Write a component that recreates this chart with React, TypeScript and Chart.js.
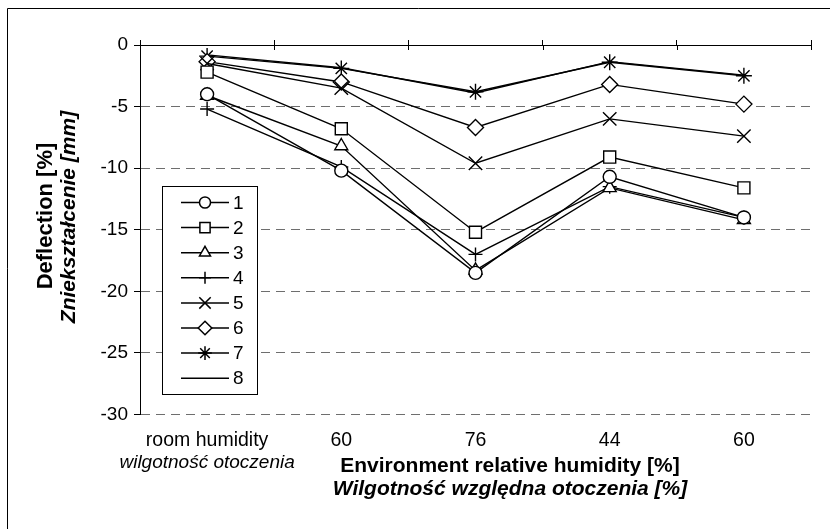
import React, { useEffect, useRef } from 'react';
import { Chart, registerables } from 'chart.js';

Chart.register(...registerables);

// ---- data ----
const categories = ['room humidity', '60', '76', '44', '60'];
const categoriesSecondLine = ['wilgotność otoczenia', '', '', '', ''];
const seriesNames = ['1', '2', '3', '4', '5', '6', '7', '8'];
const series1 = [-4.0, -10.2, -18.5, -10.7, -14.0];
const series2 = [-2.2, -6.8, -15.2, -9.1, -11.6];
const series3 = [-4.1, -8.2, -18.3, -11.6, -14.2];
const series4 = [-5.2, -9.9, -17.0, -11.5, -14.0];
const series5 = [-1.5, -3.5, -9.6, -6.0, -7.4];
const series6 = [-1.35, -3.0, -6.7, -3.2, -4.8];
const series7 = [-0.9, -1.9, -3.8, -1.4, -2.5];
const series8 = [-0.8, -1.85, -3.9, -1.35, -2.45];
const yMin = -30;
const yMax = 0;
const yStep = 5;
const xTitle1 = 'Environment relative humidity [%]';
const xTitle2 = 'Wilgotność względna otoczenia [%]';
const yTitle1 = 'Deflection [%]';
const yTitle2 = 'Zniekształcenie [mm]';

// ---- styles ----
const FONT = '"Liberation Sans", Arial, sans-serif';
const seriesValues = [series1, series2, series3, series4, series5, series6, series7, series8];
const markerStyles: any[] = ['circle', 'rect', 'triangle', 'cross', 'crossRot', 'rectRot', 'star', false];
const markerRadii = [6.5, 8.5, 7.5, 7, 9.5, 8, 8, 0];

function drawMarker(ctx: CanvasRenderingContext2D, style: any, x: number, y: number, r: number) {
  if (!style) return;
  ctx.beginPath();
  const d = r * Math.SQRT1_2;
  let fill = false;
  switch (style) {
    case 'circle':
      ctx.arc(x, y, r, 0, Math.PI * 2);
      fill = true;
      break;
    case 'rect':
      ctx.rect(x - d, y - d, 2 * d, 2 * d);
      fill = true;
      break;
    case 'triangle': {
      const s = Math.sin((2 * Math.PI) / 3) * r;
      ctx.moveTo(x, y - r);
      ctx.lineTo(x + s, y + r / 2);
      ctx.lineTo(x - s, y + r / 2);
      ctx.closePath();
      fill = true;
      break;
    }
    case 'rectRot':
      ctx.moveTo(x - r, y);
      ctx.lineTo(x, y - r);
      ctx.lineTo(x + r, y);
      ctx.lineTo(x, y + r);
      ctx.closePath();
      fill = true;
      break;
    case 'cross':
      ctx.moveTo(x, y - r);
      ctx.lineTo(x, y + r);
      ctx.moveTo(x - r, y);
      ctx.lineTo(x + r, y);
      break;
    case 'crossRot':
      ctx.moveTo(x - d, y - d);
      ctx.lineTo(x + d, y + d);
      ctx.moveTo(x + d, y - d);
      ctx.lineTo(x - d, y + d);
      break;
    case 'star':
      ctx.moveTo(x, y - r);
      ctx.lineTo(x, y + r);
      ctx.moveTo(x - r, y);
      ctx.lineTo(x + r, y);
      ctx.moveTo(x - d, y - d);
      ctx.lineTo(x + d, y + d);
      ctx.moveTo(x + d, y - d);
      ctx.lineTo(x - d, y + d);
      break;
  }
  if (fill) {
    ctx.fillStyle = '#ffffff';
    ctx.fill();
  }
  ctx.stroke();
}

const decorPlugin = {
  id: 'decor',
  afterDraw(chart: any) {
    const ctx: CanvasRenderingContext2D = chart.ctx;
    const area = chart.chartArea;
    const xScale = chart.scales.x;
    ctx.save();
    // outer frame (left and top visible)
    ctx.strokeStyle = '#000';
    ctx.lineWidth = 1;
    ctx.beginPath();
    ctx.moveTo(7.5, 529);
    ctx.lineTo(7.5, 8.5);
    ctx.lineTo(830, 8.5);
    ctx.stroke();

    // inner half of category tick marks (crossing the axis line)
    const n = categories.length;
    ctx.beginPath();
    for (let i = 0; i <= n; i++) {
      const x = Math.round(area.left + (i * (area.right - area.left)) / n) + 0.5;
      ctx.moveTo(x, area.top);
      ctx.lineTo(x, area.top + 5);
    }
    ctx.stroke();

    // category labels
    ctx.fillStyle = '#000';
    ctx.textAlign = 'center';
    ctx.textBaseline = 'middle';
    categories.forEach((c, i) => {
      const x = xScale.getPixelForValue(i);
      ctx.font = `19.5px ${FONT}`;
      ctx.fillText(c, x, 441);
      if (categoriesSecondLine[i]) {
        ctx.font = `italic 19px ${FONT}`;
        ctx.fillText(categoriesSecondLine[i], x, 463);
      }
    });

    // x axis titles
    ctx.font = `bold 21px ${FONT}`;
    ctx.fillText(xTitle1, 510, 466);
    ctx.font = `italic bold 21px ${FONT}`;
    ctx.fillText(xTitle2, 510, 489);

    // y axis titles
    ctx.save();
    ctx.translate(46, 216);
    ctx.rotate(-Math.PI / 2);
    ctx.font = `bold 22px ${FONT}`;
    ctx.fillText(yTitle1, 0, 0);
    ctx.restore();
    ctx.save();
    ctx.translate(69, 217);
    ctx.rotate(-Math.PI / 2);
    ctx.font = `italic bold 21px ${FONT}`;
    ctx.fillText(yTitle2, 0, 0);
    ctx.restore();

    // legend
    const bx = 162.5, by = 186.5, bw = 95, bh = 208;
    ctx.fillStyle = '#fff';
    ctx.fillRect(bx, by, bw, bh);
    ctx.strokeStyle = '#000';
    ctx.lineWidth = 1;
    ctx.strokeRect(bx, by, bw, bh);
    seriesNames.forEach((name, i) => {
      const y = 202.5 + i * 25.1;
      ctx.strokeStyle = '#000';
      ctx.lineWidth = 1.5;
      ctx.beginPath();
      ctx.moveTo(181, y);
      ctx.lineTo(229, y);
      ctx.stroke();
      drawMarker(ctx, markerStyles[i], 205, y, markerRadii[i] * 0.85);
      ctx.fillStyle = '#000';
      ctx.font = `19px ${FONT}`;
      ctx.textAlign = 'left';
      ctx.textBaseline = 'middle';
      ctx.fillText(name, 233, y + 1);
    });
    ctx.restore();
  },
};

export default function App() {
  const canvasRef = useRef<HTMLCanvasElement>(null);

  useEffect(() => {
    document.body.style.margin = '0';
    const canvas = canvasRef.current;
    if (!canvas) return;
    const datasets = seriesNames.map((name, i) => ({
      label: name,
      data: seriesValues[i],
      borderColor: '#000',
      borderWidth: 1.4,
      backgroundColor: '#fff',
      pointStyle: markerStyles[i],
      pointRadius: markerRadii[i],
      pointBorderColor: '#000',
      pointBackgroundColor: '#fff',
      pointBorderWidth: 1.4,
      tension: 0,
      fill: false,
    }));
    const chart = new Chart(canvas, {
      type: 'line',
      data: { labels: categories, datasets },
      options: {
        animation: false,
        responsive: false,
        devicePixelRatio: 1,
        layout: { padding: { left: 0, right: 19, top: 40, bottom: 114.5 } },
        plugins: { legend: { display: false }, tooltip: { enabled: false } },
        scales: {
          x: {
            type: 'category',
            position: 'top',
            offset: true,
            afterFit: (s: any) => {
              s.height = 5;
            },
            grid: {
              offset: true,
              drawOnChartArea: false,
              drawTicks: true,
              tickLength: 5,
              tickColor: '#000',
              color: '#000',
            },
            border: { color: '#000', width: 1 },
            ticks: { display: false },
          },
          y: {
            min: yMin,
            max: yMax,
            afterFit: (s: any) => {
              s.width = 140;
            },
            ticks: {
              stepSize: yStep,
              color: '#000',
              font: { family: FONT, size: 19 },
              padding: 6,
            },
            grid: {
              color: (c: any) => (c.tick && c.tick.value === 0 ? 'rgba(0,0,0,0)' : '#6e6e6e'),
              lineWidth: 1,
              tickColor: '#000',
              tickLength: 6,
            },
            border: { color: '#000', width: 1, dash: [9, 6] },
          },
        },
      },
      plugins: [decorPlugin],
    });
    return () => chart.destroy();
  }, []);

  return <canvas ref={canvasRef} width={830} height={529} style={{ display: 'block' }} />;
}
